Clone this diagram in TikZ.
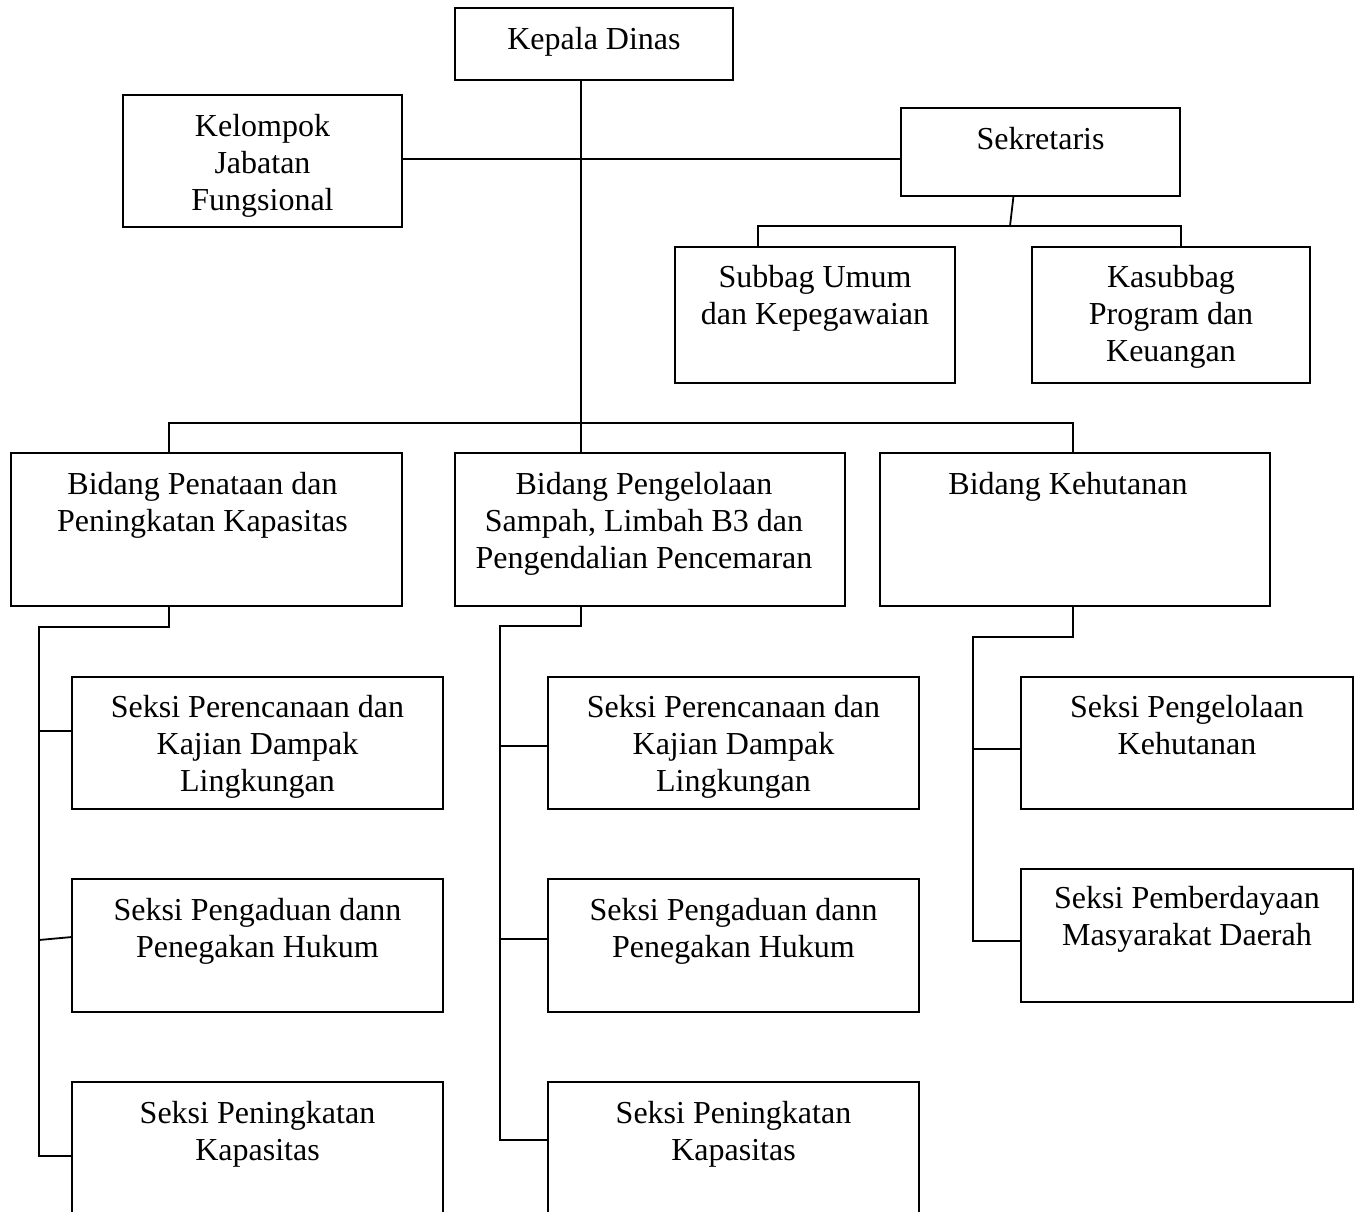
\documentclass[tikz,border=0pt]{standalone}
\usepackage{fontspec}
\setmainfont{Liberation Serif}
\begin{document}
\begin{tikzpicture}[x=1pt,y=-1pt,
  box/.style={draw, line width=1.8pt, rectangle, anchor=north west, inner sep=0pt, outer sep=0pt},
  lbl/.style={anchor=north, align=center, inner sep=0pt, font=\fontsize{32}{37}\selectfont},
  link/.style={line width=1.8pt}]
\useasboundingbox (0,0) rectangle (1362,1211);
\clip (0,0) rectangle (1362,1211);
% boxes
\node[box, minimum width=278pt, minimum height=72pt]  (kd)  at (455,8) {};
\node[box, minimum width=279pt, minimum height=132pt] (kjf) at (123,95) {};
\node[box, minimum width=279pt, minimum height=88pt]  (sek) at (901,108) {};
\node[box, minimum width=280pt, minimum height=136pt] (sub) at (675,247) {};
\node[box, minimum width=278pt, minimum height=136pt] (kas) at (1032,247) {};
\node[box, minimum width=391pt, minimum height=153pt] (b1) at (11,453) {};
\node[box, minimum width=390pt, minimum height=153pt] (b2) at (455,453) {};
\node[box, minimum width=390pt, minimum height=153pt] (b3) at (880,453) {};
\node[box, minimum width=371pt, minimum height=132pt] (s11) at (72,677) {};
\node[box, minimum width=371pt, minimum height=133pt] (s12) at (72,879) {};
\node[box, minimum width=371pt, minimum height=145pt] (s13) at (72,1082) {};
\node[box, minimum width=371pt, minimum height=132pt] (s21) at (548,677) {};
\node[box, minimum width=371pt, minimum height=133pt] (s22) at (548,879) {};
\node[box, minimum width=371pt, minimum height=145pt] (s23) at (548,1082) {};
\node[box, minimum width=332pt, minimum height=132pt] (s31) at (1021,677) {};
\node[box, minimum width=332pt, minimum height=133pt] (s32) at (1021,869) {};
% texts
\node[lbl] (tkd)  at ([yshift=-19pt]kd.north)  {Kepala Dinas};
\node[lbl] (tkjf) at ([yshift=-19pt]kjf.north) {Kelompok\\Jabatan\\Fungsional};
\node[lbl] (tsek) at ([yshift=-19pt]sek.north) {Sekretaris};
\node[lbl] (tsub) at ([yshift=-18pt]sub.north) {Subbag Umum\\dan Kepegawaian};
\node[lbl] (tkas) at ([yshift=-18pt]kas.north) {Kasubbag\\Program dan\\Keuangan};
\node[lbl] (tb1)  at ([xshift=-4pt,yshift=-19pt]b1.north) {Bidang Penataan dan\\Peningkatan Kapasitas};
\node[lbl] (tb2)  at ([xshift=-6pt,yshift=-19pt]b2.north) {Bidang Pengelolaan\\Sampah, Limbah B3 dan\\Pengendalian Pencemaran};
\node[lbl] (tb3)  at ([xshift=-7pt,yshift=-19pt]b3.north) {Bidang Kehutanan};
\node[lbl] (ts11) at ([yshift=-18pt]s11.north) {Seksi Perencanaan dan\\Kajian Dampak\\Lingkungan};
\node[lbl] (ts12) at ([yshift=-19pt]s12.north) {Seksi Pengaduan dann\\Penegakan Hukum};
\node[lbl] (ts13) at ([yshift=-19pt]s13.north) {Seksi Peningkatan\\Kapasitas};
\node[lbl] (ts21) at ([yshift=-18pt]s21.north) {Seksi Perencanaan dan\\Kajian Dampak\\Lingkungan};
\node[lbl] (ts22) at ([yshift=-19pt]s22.north) {Seksi Pengaduan dann\\Penegakan Hukum};
\node[lbl] (ts23) at ([yshift=-19pt]s23.north) {Seksi Peningkatan\\Kapasitas};
\node[lbl] (ts31) at ([yshift=-18pt]s31.north) {Seksi Pengelolaan\\Kehutanan};
\node[lbl] (ts32) at ([yshift=-17pt]s32.north) {Seksi Pemberdayaan\\Masyarakat Daerah};
% junction coordinates
\coordinate (t)  at (581,423);
\coordinate (hj) at (581,159);
\coordinate (sj) at (1010,226);
\coordinate (sa) at (758,226);
\coordinate (sb) at (1181,226);
\coordinate (m1) at (169,423);
\coordinate (m3) at (1073,423);
\coordinate (c1) at (39,627);
\coordinate (c2) at (500,626);
\coordinate (c3) at (973,637);
% connectors
\draw[link] (kd.south -| t) -- (t);
\draw[link] (kjf.east |- hj) -- (sek.west |- hj);
\draw[link] ([xshift=-27pt]sek.south) -- (sj);
\draw[link] (sa |- sub.north) -- (sa) -- (sb) -- (sb |- kas.north);
\draw[link] (m1 |- b1.north) -- (m1) -- (m3) -- (m3 |- b3.north);
\draw[link] (t) -- (t |- b2.north);
% column 1
\draw[link] (b1.south -| m1) -- (m1 |- c1) -- (c1) -- (39,1156) -- (s13.west |- 0,1156);
\draw[link] (39,731) -- (s11.west |- 0,731);
\draw[link] (39,940) -- (s12.west |- 0,937);
% column 2
\draw[link] (b2.south -| t) -- (t |- c2) -- (c2) -- (500,1140) -- (s23.west |- 0,1140);
\draw[link] (500,746) -- (s21.west |- 0,746);
\draw[link] (500,939) -- (s22.west |- 0,939);
% column 3
\draw[link] (b3.south -| m3) -- (m3 |- c3) -- (c3) -- (973,941) -- (s32.west |- 0,941);
\draw[link] (973,749) -- (s31.west |- 0,749);
\end{tikzpicture}
\end{document}
